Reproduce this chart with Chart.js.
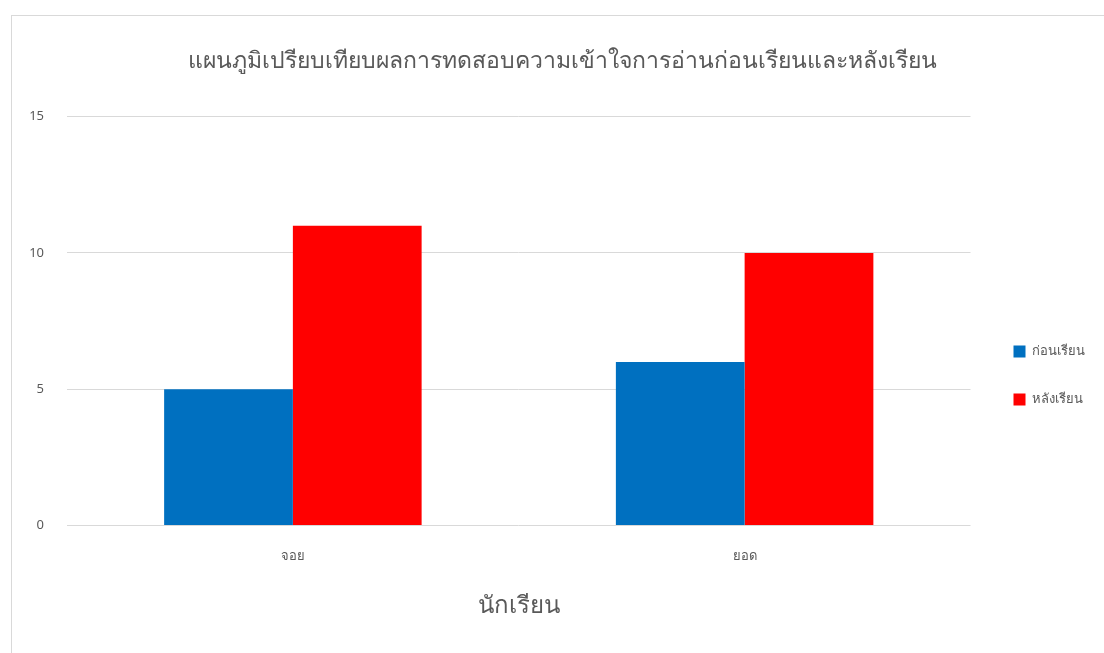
<!DOCTYPE html>
<html>
<head>
<meta charset="utf-8">
<script src="https://cdn.jsdelivr.net/npm/chart.js@4.4.0/dist/chart.umd.min.js"></script>
<style>
  html, body { margin: 0; padding: 0; background: #fff; overflow: hidden; width: 1104px; height: 653px; }
  #frame { position: absolute; left: 11px; top: 15px; width: 1200px; height: 1000px; border: 1px solid #d9d9d9; box-sizing: border-box; }
  #wrap { position: absolute; left: 11px; top: 15px; width: 1104px; height: 638px; }
</style>
</head>
<body>
<div id="frame"></div>
<div id="wrap"><canvas id="c"></canvas></div>
<script>
const titleText = 'แผนภูมิเปรียบเทียบผลการทดสอบความเข้าใจการอ่านก่อนเรียนและหลังเรียน';
const xAxisTitle = 'นักเรียน';
const categories = ['จอย', 'ยอด'];
const seriesNames = ['ก่อนเรียน', 'หลังเรียน'];
const beforeValues = [5, 6];
const afterValues = [11, 10];
const yTicks = [0, 5, 10, 15];

const FONT = '"Noto Sans", "Liberation Sans", sans-serif';
const TXT = '#595959';

new Chart(document.getElementById('c'), {
  type: 'bar',
  data: {
    labels: categories,
    datasets: [
      { label: seriesNames[0], data: beforeValues, backgroundColor: '#0070C0', borderWidth: 0 },
      { label: seriesNames[1], data: afterValues, backgroundColor: '#FF0000', borderWidth: 0 }
    ]
  },
  options: {
    responsive: true,
    maintainAspectRatio: false,
    animation: false,
    layout: { padding: { left: 18, right: 20, top: 0, bottom: 28 } },
    datasets: { bar: { barPercentage: 1.0, categoryPercentage: 0.57 } },
    plugins: {
      title: {
        display: true, text: titleText, color: TXT,
        font: { family: FONT, size: 23, weight: 'normal' },
        padding: { top: 33, bottom: 41 }
      },
      legend: {
        position: 'right',
        title: { display: true, text: ' ', font: { size: 10 }, padding: { top: 99, bottom: 0 } },
        labels: {
          color: TXT, boxWidth: 12, boxHeight: 12, padding: 35,
          font: { family: FONT, size: 13 }
        }
      },
      tooltip: { enabled: false }
    },
    scales: {
      x: {
        grid: { display: false, drawTicks: false },
        border: { display: false },
        ticks: { color: TXT, padding: 23, font: { family: FONT, size: 13 } },
        title: {
          display: true, text: xAxisTitle, color: TXT,
          font: { family: FONT, size: 24, weight: 'normal' },
          padding: { top: 5, bottom: 4 }
        }
      },
      y: {
        min: yTicks[0], max: yTicks[yTicks.length - 1],
        afterBuildTicks: s => { s.ticks = yTicks.map(v => ({ value: v })); },
        afterFit: s => { s.width = 38; },
        grid: { color: '#d9d9d9', drawTicks: false, lineWidth: 1 },
        border: { display: false },
        ticks: { color: TXT, padding: 23, font: { family: FONT, size: 13 } }
      },
      gap: {
        position: 'right', type: 'linear',
        display: true,
        grid: { display: false, drawTicks: false },
        border: { display: false },
        ticks: { display: false },
        afterFit: s => { s.width = 8; }
      }
    }
  }
});
</script>
</body>
</html>
